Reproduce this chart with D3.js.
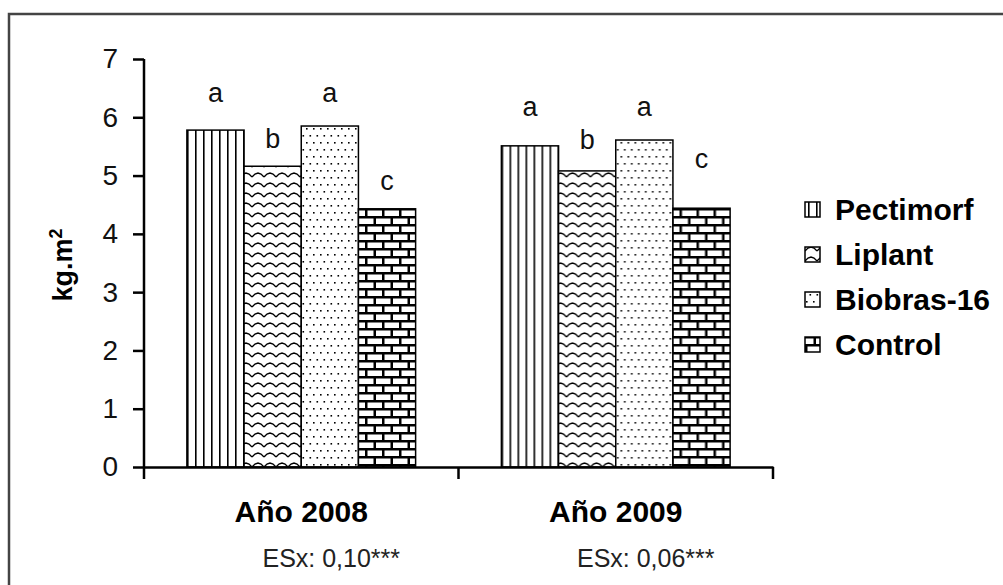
<!DOCTYPE html>
<html>
<head>
<meta charset="utf-8">
<script src="https://cdn.jsdelivr.net/npm/d3@7"></script>
<style>
  html, body { margin: 0; padding: 0; background: #fff; }
  svg text { font-family: "Liberation Sans", Arial, sans-serif; }
</style>
</head>
<body>
<div id="chart"></div>
<script>
"use strict";

// data
var categories = ["Año 2008", "Año 2009"];
var seriesNames = ["Pectimorf", "Liplant", "Biobras-16", "Control"];
var pectimorf = [5.78, 5.51];
var liplant = [5.16, 5.08];
var biobras = [5.85, 5.61];
var control = [4.43, 4.44];
var letters2008 = ["a", "b", "a", "c"];
var letters2009 = ["a", "b", "a", "c"];
var letterLevel2008 = [6.42, 5.63, 6.42, 4.92];
var letterLevel2009 = [6.19, 5.61, 6.19, 5.30];
var esxLabels = ["ESx: 0,10***", "ESx: 0,06***"];
var yTicks = [0, 1, 2, 3, 4, 5, 6, 7];

function drawChart() {
    var w = 1003;
    var h = 585;

    var values = [pectimorf, liplant, biobras, control];
    var letters = [letters2008, letters2009];
    var letterLevels = [letterLevel2008, letterLevel2009];

    var svg = d3.select("#chart")
                .append("svg")
                .attr("width", w)
                .attr("height", h);

    var defs = svg.append("defs");

    // vertical lines
    var p1 = defs.append("pattern").attr("id", "pat0")
        .attr("patternUnits", "userSpaceOnUse")
        .attr("width", 8).attr("height", 8);
    p1.append("rect").attr("width", 8).attr("height", 8).attr("fill", "#fff");
    p1.append("rect").attr("x", 3).attr("width", 1.6).attr("height", 8).attr("fill", "#000");

    // waves
    var p2 = defs.append("pattern").attr("id", "pat1")
        .attr("patternUnits", "userSpaceOnUse")
        .attr("width", 12).attr("height", 10);
    p2.append("rect").attr("width", 12).attr("height", 10).attr("fill", "#fff");
    p2.append("path")
        .attr("d", "M0,7 L3,4 L6,3 L9,4 L12,7")
        .attr("fill", "none").attr("stroke", "#000").attr("stroke-width", 1.4);

    // dots
    var p3 = defs.append("pattern").attr("id", "pat2")
        .attr("patternUnits", "userSpaceOnUse")
        .attr("width", 7).attr("height", 14);
    p3.append("rect").attr("width", 7).attr("height", 14).attr("fill", "#fff");
    p3.append("rect").attr("x", 1).attr("y", 2).attr("width", 1.6).attr("height", 1.6).attr("fill", "#000");
    p3.append("rect").attr("x", 4.5).attr("y", 9).attr("width", 1.6).attr("height", 1.6).attr("fill", "#000");

    // bricks
    var p4 = defs.append("pattern").attr("id", "pat3")
        .attr("patternUnits", "userSpaceOnUse")
        .attr("width", 17).attr("height", 16);
    p4.append("rect").attr("width", 17).attr("height", 16).attr("fill", "#000");
    p4.append("rect").attr("x", 2.5).attr("y", 2.5).attr("width", 14.5).attr("height", 5.5).attr("fill", "#fff");
    p4.append("rect").attr("x", 11).attr("y", 10.5).attr("width", 6).attr("height", 5.5).attr("fill", "#fff");
    p4.append("rect").attr("x", 0).attr("y", 10.5).attr("width", 8.5).attr("height", 5.5).attr("fill", "#fff");

    // outer frame (only top and left show in the crop)
    svg.append("path")
        .attr("d", "M9," + h + " L9,14 L" + w + ",14")
        .attr("fill", "none")
        .attr("stroke", "#444")
        .attr("stroke-width", 2.5);

    var y = d3.scaleLinear().domain([0, 7]).range([467, 59]);
    var x0 = d3.scaleBand().domain(categories).range([144, 773]).padding(0);
    var x1 = d3.scaleBand().domain(seriesNames)
               .range([0, x0.bandwidth()])
               .paddingInner(0).paddingOuter(0.75);

    // bars
    var groups = svg.selectAll("g.cat")
        .data(categories)
        .enter().append("g")
        .attr("class", "cat")
        .attr("transform", function(d) { return "translate(" + x0(d) + ",0)"; });

    groups.selectAll("rect")
        .data(function(d, ci) {
            return seriesNames.map(function(s, si) {
                return { name: s, si: si, value: values[si][ci] };
            });
        })
        .enter().append("rect")
        .attr("x", function(d) { return x1(d.name); })
        .attr("y", function(d) { return y(d.value); })
        .attr("width", x1.bandwidth())
        .attr("height", function(d) { return y(0) - y(d.value); })
        .attr("fill", function(d) { return "url(#pat" + d.si + ")"; })
        .attr("stroke", "#000")
        .attr("stroke-width", 1.5);

    groups.selectAll("text.letter")
        .data(function(d, ci) {
            return seriesNames.map(function(s, si) {
                return { name: s, letter: letters[ci][si], level: letterLevels[ci][si] };
            });
        })
        .enter().append("text")
        .attr("class", "letter")
        .attr("x", function(d) { return x1(d.name) + x1.bandwidth() / 2; })
        .attr("y", function(d) { return y(d.level); })
        .attr("dy", "0.35em")
        .attr("text-anchor", "middle")
        .style("font-size", "27px")
        .attr("fill", "#111")
        .text(function(d) { return d.letter; });

    // y axis
    var yAxis = svg.append("g")
        .attr("transform", "translate(144,0)")
        .call(d3.axisLeft(y).tickValues(yTicks).tickFormat(d3.format("d"))
              .tickSize(11).tickSizeOuter(0).tickPadding(15));
    yAxis.select(".domain").attr("stroke-width", 2.5).attr("d", "M0,59 V479");
    yAxis.selectAll(".tick line").attr("stroke-width", 2.5);
    yAxis.selectAll(".tick text")
        .style("font-size", "28px")
        .style("font-family", "'Liberation Sans', Arial, sans-serif")
        .attr("fill", "#111");

    // x axis
    var xAxis = svg.append("g")
        .attr("transform", "translate(0,467)")
        .call(d3.axisBottom(x0).tickSize(0).tickPadding(34).tickSizeOuter(0));
    xAxis.select(".domain").attr("stroke-width", 2.5);
    xAxis.selectAll(".tick text")
        .style("font-size", "30px")
        .style("font-weight", "bold")
        .style("font-family", "'Liberation Sans', Arial, sans-serif")
        .attr("fill", "#000");

    // ticks between categories
    var bounds = categories.map(function(d) { return x0(d); });
    bounds.push(x0(categories[categories.length - 1]) + x0.bandwidth());
    svg.selectAll("line.xtick")
        .data(bounds.slice(1))
        .enter().append("line")
        .attr("class", "xtick")
        .attr("x1", function(d) { return d; })
        .attr("x2", function(d) { return d; })
        .attr("y1", 467).attr("y2", 479)
        .attr("stroke", "#000").attr("stroke-width", 2.5);

    // ESx labels under categories
    svg.selectAll("text.esx")
        .data(esxLabels)
        .enter().append("text")
        .attr("class", "esx")
        .attr("x", function(d, i) { return x0(categories[i]) + x0.bandwidth() / 2 + 30; })
        .attr("y", 567)
        .attr("text-anchor", "middle")
        .style("font-size", "25px")
        .attr("fill", "#222")
        .text(function(d) { return d; });

    // y title
    var yt = svg.append("text")
        .attr("transform", "translate(72,265) rotate(-90)")
        .attr("text-anchor", "middle")
        .style("font-size", "27px")
        .style("font-weight", "bold")
        .attr("fill", "#000");
    yt.append("tspan").text("kg.m");
    yt.append("tspan").attr("baseline-shift", "super").style("font-size", "18px").text("2");

    // legend
    var legend = svg.selectAll(".legend")
        .data(seriesNames)
        .enter().append("g")
        .attr("class", "legend")
        .attr("transform", function(d, i) {
            return "translate(805," + (209 + i * 45) + ")";
        });

    legend.append("rect")
        .attr("y", -7)
        .attr("width", 15)
        .attr("height", 15)
        .attr("fill", function(d, i) { return "url(#pat" + i + ")"; })
        .attr("stroke", "#000")
        .attr("stroke-width", 1.5);

    legend.append("text")
        .attr("x", 30)
        .attr("dy", "0.36em")
        .style("font-size", "30px")
        .style("font-weight", "bold")
        .attr("fill", "#000")
        .text(function(d) { return d; });
}

window.addEventListener("load", function() {
    drawChart();
});
</script>
</body>
</html>
